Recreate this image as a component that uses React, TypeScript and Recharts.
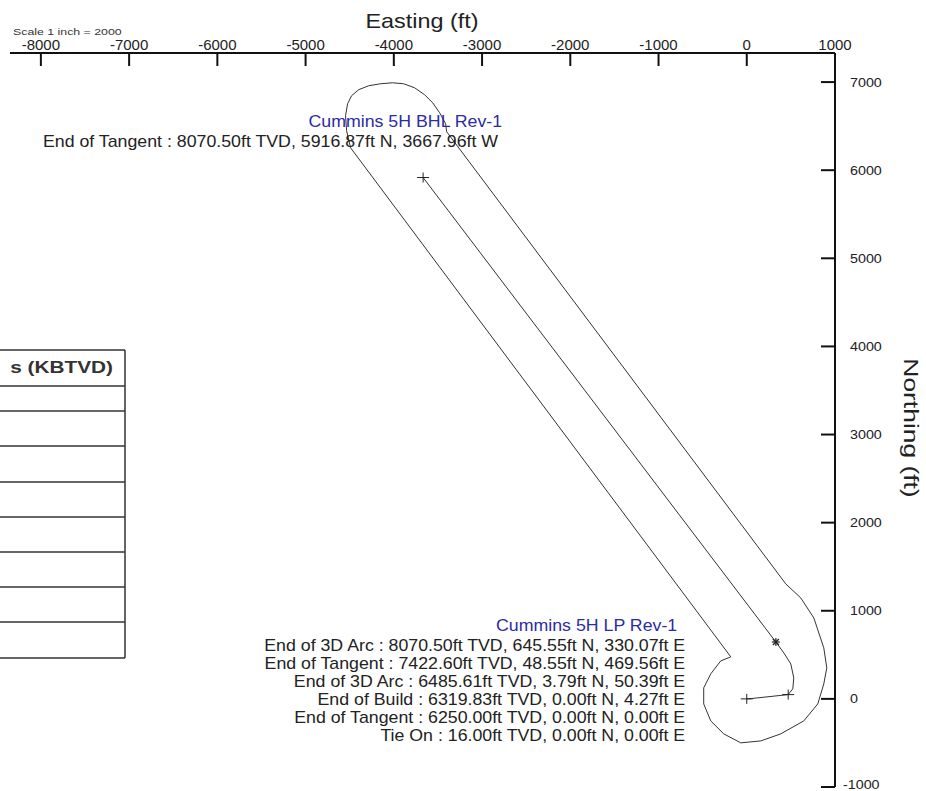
import React from 'react';
import { ScatterChart, Scatter, XAxis, YAxis } from 'recharts';

const CHART_W = 926;
const CHART_H = 791;
const FONT = '"Liberation Sans", Arial, Helvetica, sans-serif';

const eastingTicks = [-8000, -7000, -6000, -5000, -4000, -3000, -2000, -1000, 0, 1000];
const northingTicks = [-1000, 0, 1000, 2000, 3000, 4000, 5000, 6000, 7000];

// Survey stations (Easting ft, Northing ft)
const stationE = [0, 0, 4.27, 50.39, 469.56, 330.07, -3667.96];
const stationN = [0, 0, 0, 3.79, 48.55, 645.55, 5916.87];

// Well path (stations plus points read along the 3D arc)
const pathE = [0, 0, 4.27, 50.39, 469.56, 522, 533, 499, 420, 330.07, -3667.96];
const pathN = [0, 0, 0, 3.79, 48.55, 114, 238, 397, 522, 645.55, 5916.87];

// Outline drawn around the well path
const boundaryE = [-4490, -4535, -4547, -4524, -4479, -4399, -4286, -4150, -4014, -3889, -3764, -3651, -3560, -3481, -3413, -3401,
  442, 612, 760, 873, 907, 873, 805, 646, 385, 159, -68, -261, -408, -488, -488, -408, -295, -181, -4490];
const boundaryN = [6254, 6447, 6618, 6754, 6845, 6913, 6958, 6981, 6992, 6981, 6935, 6856, 6765, 6652, 6527, 6436,
  1305, 1146, 919, 579, 352, 170, -57, -250, -397, -477, -499, -397, -250, -57, 125, 284, 431, 477, 6254];

const bhlTitle = 'Cummins 5H BHL Rev-1';
const bhlLines = ['End of Tangent : 8070.50ft TVD, 5916.87ft N, 3667.96ft W'];
const lpTitle = 'Cummins 5H LP Rev-1';
const lpLines = [
  'End of 3D Arc : 8070.50ft TVD, 645.55ft N, 330.07ft E',
  'End of Tangent : 7422.60ft TVD, 48.55ft N, 469.56ft E',
  'End of 3D Arc : 6485.61ft TVD, 3.79ft N, 50.39ft E',
  'End of Build : 6319.83ft TVD, 0.00ft N, 4.27ft E',
  'End of Tangent : 6250.00ft TVD, 0.00ft N, 0.00ft E',
  'Tie On : 16.00ft TVD, 0.00ft N, 0.00ft E',
];
const tableHeader = 's (KBTVD)';
const tableRowLines = [350, 386, 411, 446, 482, 517, 552, 587, 622, 658];
const xTitle = 'Easting (ft)';
const yTitle = 'Northing (ft)';
const scaleNote = 'Scale 1 inch = 2000';

const toPts = (es: number[], ns: number[]) => es.map((e, i) => ({ e, n: ns[i] }));

const pathData = toPts(pathE, pathN);
const boundaryData = toPts(boundaryE, boundaryN);
const plusData = toPts([stationE[0], stationE[4], stationE[6]], [stationN[0], stationN[4], stationN[6]]);
const starData = toPts([stationE[5]], [stationN[5]]);
const bhlData = toPts([stationE[6]], [stationN[6]]);
const lpData = toPts([stationE[4]], [stationN[4]]);

const Empty = () => <g />;

const Plus = (p: any) => (
  <g stroke="#222" strokeWidth={1}>
    <line x1={p.cx - 6} y1={p.cy} x2={p.cx + 6} y2={p.cy} />
    <line x1={p.cx} y1={p.cy - 5} x2={p.cx} y2={p.cy + 5} />
  </g>
);

const Star = (p: any) => (
  <g stroke="#222" strokeWidth={1.2}>
    <line x1={p.cx - 4} y1={p.cy} x2={p.cx + 4} y2={p.cy} />
    <line x1={p.cx} y1={p.cy - 4} x2={p.cx} y2={p.cy + 4} />
    <line x1={p.cx - 3} y1={p.cy - 3} x2={p.cx + 3} y2={p.cy + 3} />
    <line x1={p.cx - 3} y1={p.cy + 3} x2={p.cx + 3} y2={p.cy - 3} />
  </g>
);

const ScaledText = ({ x, y, sx, size, anchor, fill, weight, children }: any) => (
  <g transform={`translate(${x},${y}) scale(${sx},1)`}>
    <text x={0} y={0} textAnchor={anchor} fontSize={size} fill={fill} fontWeight={weight || 'normal'} fontFamily={FONT}>
      {children}
    </text>
  </g>
);

const BhlLabel = (p: any) => (
  <g>
    <ScaledText x={p.cx + 79} y={p.cy - 50.5} sx={1.11} size={16} anchor="end" fill="#2b2ba6">{bhlTitle}</ScaledText>
    {bhlLines.map((t, i) => (
      <ScaledText key={i} x={p.cx + 75} y={p.cy - 31 + i * 18} sx={1.11} size={16} anchor="end" fill="#222">{t}</ScaledText>
    ))}
  </g>
);

const LpLabel = (p: any) => (
  <g>
    <ScaledText x={p.cx - 111} y={p.cy - 63.6} sx={1.11} size={16} anchor="end" fill="#2b2ba6">{lpTitle}</ScaledText>
    {lpLines.map((t, i) => (
      <ScaledText key={i} x={p.cx - 103} y={p.cy - 43.6 + i * 18} sx={1.11} size={16} anchor="end" fill="#222">{t}</ScaledText>
    ))}
  </g>
);

const TopTick = (props: any) => {
  const { x, y, payload } = props;
  return (
    <g>
      <line x1={x} y1={y} x2={x} y2={y + 13} stroke="#111" strokeWidth={2} />
      <text x={x} y={y - 3} textAnchor="middle" fontSize={15} fill="#222" fontFamily={FONT}>{payload.value}</text>
    </g>
  );
};

const RightTick = (props: any) => {
  const { x, y, payload } = props;
  const neg = payload.value < 0;
  return (
    <g>
      <line x1={x - 14} y1={y} x2={x} y2={y} stroke="#111" strokeWidth={2} />
      <ScaledText x={x + (neg ? 8 : 15)} y={y + (neg ? 2 : 4.5)} sx={1.1} size={13} anchor="start" fill="#222">{payload.value}</ScaledText>
    </g>
  );
};

export default function App() {
  return (
    <div style={{ position: 'absolute', left: 0, top: 0, width: CHART_W, height: CHART_H, background: '#fff' }}>
      <ScatterChart width={CHART_W} height={CHART_H} margin={{ top: 0, right: 0, bottom: 4, left: 10 }}>
        <XAxis
          type="number"
          dataKey="e"
          orientation="top"
          domain={[-8350, 1000]}
          ticks={eastingTicks}
          interval={0}
          height={53}
          axisLine={{ stroke: '#111', strokeWidth: 2 }}
          tickLine={false}
          tickSize={0}
          tickMargin={0}
          tick={<TopTick />}
          allowDataOverflow
        />
        <YAxis
          type="number"
          dataKey="n"
          orientation="right"
          domain={[-1000, 7330]}
          ticks={northingTicks}
          interval={0}
          width={91}
          axisLine={{ stroke: '#111', strokeWidth: 2 }}
          tickLine={false}
          tickSize={0}
          tickMargin={0}
          tick={<RightTick />}
          allowDataOverflow
        />
        <Scatter data={boundaryData} line={{ stroke: '#333', strokeWidth: 1 }} shape={<Empty />} isAnimationActive={false} />
        <Scatter data={pathData} line={{ stroke: '#333', strokeWidth: 1 }} shape={<Empty />} isAnimationActive={false} />
        <Scatter data={plusData} shape={<Plus />} isAnimationActive={false} />
        <Scatter data={starData} shape={<Star />} isAnimationActive={false} />
        <Scatter data={bhlData} shape={<BhlLabel />} isAnimationActive={false} />
        <Scatter data={lpData} shape={<LpLabel />} isAnimationActive={false} />
      </ScatterChart>
      <svg width={CHART_W} height={CHART_H} style={{ position: 'absolute', left: 0, top: 0, pointerEvents: 'none' }}>
        <ScaledText x={13} y={35} sx={1.3} size={9.5} anchor="start" fill="#333">{scaleNote}</ScaledText>
        <ScaledText x={422} y={28} sx={1.17} size={20} anchor="middle" fill="#222">{xTitle}</ScaledText>
        <g transform="translate(904,428) rotate(90)">
          <ScaledText x={0} y={0} sx={1.32} size={20} anchor="middle" fill="#222">{yTitle}</ScaledText>
        </g>
        {tableRowLines.map((yy, i) => (
          <line key={i} x1={0} y1={yy} x2={125} y2={yy} stroke="#333" strokeWidth={1.5} />
        ))}
        <line x1={125} y1={tableRowLines[0]} x2={125} y2={tableRowLines[tableRowLines.length - 1]} stroke="#333" strokeWidth={1.5} />
        <ScaledText x={113} y={373} sx={1.3} size={16} anchor="end" fill="#333" weight="bold">{tableHeader}</ScaledText>
      </svg>
    </div>
  );
}
